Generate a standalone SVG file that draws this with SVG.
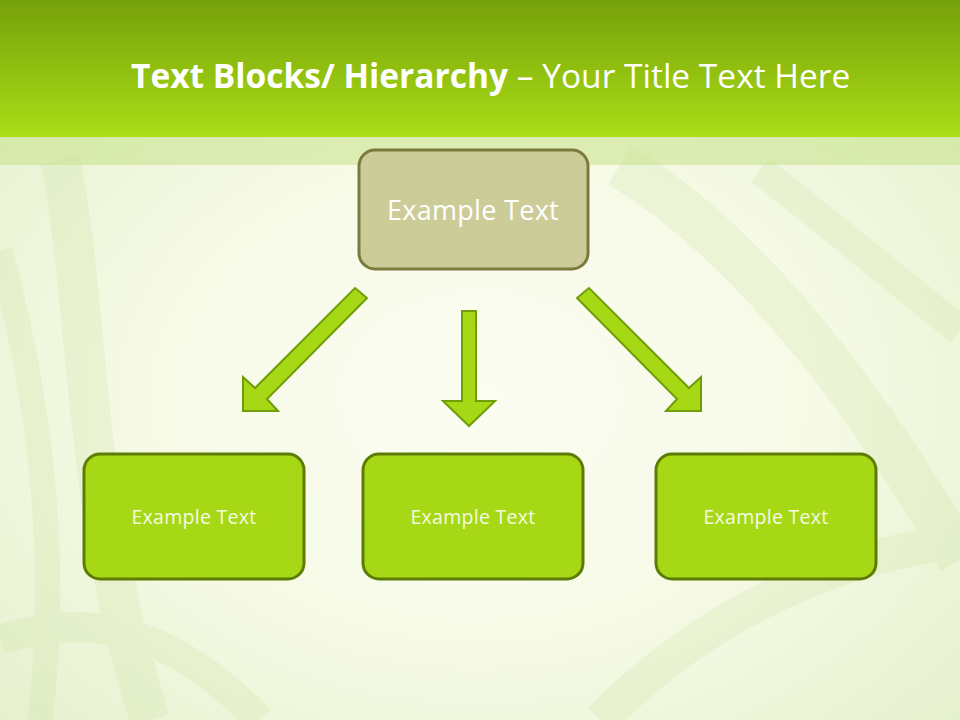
<svg xmlns="http://www.w3.org/2000/svg" width="960" height="720" viewBox="0 0 960 720">
<defs>
<linearGradient id="hdr" x1="0" y1="0" x2="0" y2="1">
<stop offset="0" stop-color="#76a00a"/>
<stop offset="1" stop-color="#aade16"/>
</linearGradient>
<radialGradient id="bg" cx="0.5" cy="0.55" r="0.7">
<stop offset="0" stop-color="#fbfdf2"/>
<stop offset="0.5" stop-color="#f6fae6"/>
<stop offset="1" stop-color="#e4f0cc"/>
</radialGradient>
<style>
.top rect{fill:#cccc99;stroke:#7a7a3c;stroke-width:3}
.top text{fill:#ffffff;font-family:"Open Sans","Noto Sans",sans-serif;font-size:27px;letter-spacing:0.3px;text-anchor:middle}
.leaf rect{fill:#a6d816;stroke:#5c7c04;stroke-width:3}
.leaf text{fill:#f4fbe0;font-family:"Open Sans","Noto Sans",sans-serif;font-size:19.5px;letter-spacing:0.3px;text-anchor:middle}
.arr{fill:#a6d816;stroke:#709e08;stroke-width:2;stroke-linejoin:miter}
.title{fill:#ffffff;font-family:"Open Sans","Noto Sans",sans-serif;font-size:33.5px}
</style>
</defs>
<rect width="960" height="720" fill="url(#bg)"/>
<g opacity="0.22" fill="none" stroke="#c8e09a">
<path d="M60 160 C90 300 80 500 150 720" stroke-width="40"/>
<path d="M0 250 C40 400 60 560 40 720" stroke-width="25"/>
<path d="M620 165 C760 250 880 420 960 560" stroke-width="45"/>
<path d="M760 170 C850 240 920 300 960 330" stroke-width="30"/>
<path d="M600 720 C700 620 820 560 960 540" stroke-width="35"/>
<path d="M0 640 C120 600 200 660 260 720" stroke-width="30"/>
</g>
<rect x="0" y="0" width="960" height="137" fill="url(#hdr)"/>
<rect x="0" y="137" width="960" height="28" fill="#c6e28a" opacity="0.55"/>
<text class="title" x="131" y="88"><tspan font-weight="bold">Text Blocks/ Hierarchy</tspan> – Your Title Text Here</text>
<g id="connectors">
<polygon class="arr" points="355,288 367,298 267,399 278,411 243,411 243,377 255,388"/>
<polygon class="arr" points="462,311 476,311 476,401 495,401 469,426 443,401 462,401"/>
<polygon class="arr" points="589,288 577,298 677,399 666,411 701,411 701,377 689,388"/>
</g>
<g id="node-top" class="top">
<rect x="359" y="150" width="229" height="119" rx="16"/>
<text x="473" y="220">Example Text</text>
</g>
<g id="node-left" class="leaf">
<rect x="84" y="454" width="220" height="125" rx="16"/>
<text x="194" y="524">Example Text</text>
</g>
<g id="node-middle" class="leaf">
<rect x="363" y="454" width="220" height="125" rx="16"/>
<text x="473" y="524">Example Text</text>
</g>
<g id="node-right" class="leaf">
<rect x="656" y="454" width="220" height="125" rx="16"/>
<text x="766" y="524">Example Text</text>
</g>
</svg>
